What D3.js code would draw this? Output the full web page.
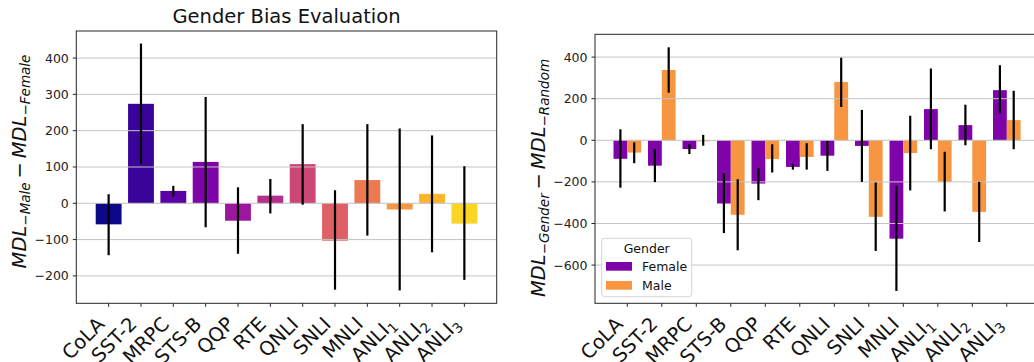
<!DOCTYPE html>
<html>
<head>
<meta charset="utf-8">
<script src="https://cdn.jsdelivr.net/npm/d3@7"></script>
<style>
  body { margin: 0; background: #fff; }
  svg { display: block; font-family: 'DejaVu Sans', sans-serif; }
</style>
</head>
<body>
<svg id="chart" width="1034" height="362"></svg>
<script>
const tasks = ['CoLA', 'SST-2', 'MRPC', 'STS-B', 'QQP', 'RTE', 'QNLI', 'SNLI', 'MNLI', 'ANLI1', 'ANLI2', 'ANLI3']

// left panel: MDL_Male - MDL_Female
const biasMean = [-58, 274, 34, 114, -48, 21, 108, -103, 64, -17, 26, -56]
const biasLo = [-143, 108, 18, -66, -139, -28, -4, -238, -89, -240, -135, -211]
const biasHi = [25, 440, 48, 293, 44, 67, 218, 36, 218, 206, 187, 102]

// right panel: MDL_Gender - MDL_Random
const genders = ['Female', 'Male']
const femaleMean = [-89, -122, -42, -304, -208, -128, -74, -27, -473, 150, 73, 241]
const femaleLo = [-228, -201, -66, -446, -288, -141, -147, -200, -724, -43, -24, 129]
const femaleHi = [53, -42, -19, -158, -133, -114, -3, 146, -219, 345, 171, 361]
const maleMean = [-59, 338, -5, -358, -90, -80, 280, -368, -61, -200, -344, 97]
const maleLo = [-110, 229, -26, -529, -155, -141, 160, -532, -241, -342, -489, -43]
const maleHi = [-10, 447, 26, -187, -19, -14, 397, -203, 118, -55, -200, 238]

const leftTicks = [-200, -100, 0, 100, 200, 300, 400]
const rightTicks = [-600, -400, -200, 0, 200, 400]

const GRID = '#c4c4c4'
const SPINE = '#262626'
const TICK_FONT = 12.5
const XLAB_FONT = 19.5
const YLAB_FONT = 19.5
const YLAB_SUB = 13.5

const svg = d3.select('#chart')

function drawPanel(o) {
  const g = svg.append('g')
  const [x0, x1] = o.x.range()
  const [yb, yt] = o.y.range()

  // bars first, then grid on top (matplotlib axisbelow='line'), then error bars
  o.drawBars(g)

  g.append('g')
    .selectAll('line')
    .data(o.ticks)
    .join('line')
    .attr('x1', x0).attr('x2', x1)
    .attr('y1', d => o.y(d)).attr('y2', d => o.y(d))
    .attr('stroke', GRID)
    .attr('stroke-width', 1)

  o.drawErrors(g)

  // spines
  g.append('rect')
    .attr('x', x0).attr('y', yt)
    .attr('width', x1 - x0).attr('height', yb - yt)
    .attr('fill', 'none')
    .attr('stroke', SPINE)
    .attr('stroke-width', 1)

  // y ticks
  const yAx = g.append('g')
  yAx.selectAll('line')
    .data(o.ticks)
    .join('line')
    .attr('x1', x0 - 3.5).attr('x2', x0)
    .attr('y1', d => o.y(d)).attr('y2', d => o.y(d))
    .attr('stroke', SPINE)
  yAx.selectAll('text')
    .data(o.ticks)
    .join('text')
    .attr('x', x0 - 7.5)
    .attr('y', d => o.y(d))
    .attr('dy', '0.36em')
    .attr('text-anchor', 'end')
    .attr('font-size', TICK_FONT)
    .attr('fill', '#222')
    .text(d => (d < 0 ? '\u2212' + Math.abs(d) : d))

  // x ticks
  const cx = d => o.x(d) + o.x.bandwidth() / 2
  g.append('g')
    .selectAll('line')
    .data(tasks)
    .join('line')
    .attr('x1', cx).attr('x2', cx)
    .attr('y1', yb).attr('y2', yb + 3.5)
    .attr('stroke', SPINE)

  g.append('g')
    .selectAll('text')
    .data(tasks)
    .join('text')
    .attr('text-anchor', 'end')
    .attr('font-size', XLAB_FONT)
    .attr('fill', '#111')
    .attr('transform', d => `translate(${cx(d) - 3}, ${yb + 22}) rotate(-45)`)
    .each(function (d) {
      const t = d3.select(this)
      const m = d.match(/^(ANLI)(\d)$/)
      if (m) {
        t.append('tspan').text(m[1])
        t.append('tspan').attr('font-size', XLAB_FONT * 0.7).attr('dy', 4).text(m[2])
      } else {
        t.text(d)
      }
    })

  // y label (mathtext-like)
  const lab = g.append('text')
    .attr('transform', `translate(${o.labelX}, ${o.labelY}) rotate(-90)`)
    .attr('text-anchor', 'middle')
    .attr('font-size', YLAB_FONT)
    .attr('fill', '#111')
  lab.append('tspan').attr('font-style', 'italic').text('MDL')
  lab.append('tspan').attr('font-style', 'italic').attr('font-size', YLAB_SUB).attr('dy', 4).text('\u2212' + o.sub1)
  lab.append('tspan').attr('dy', -4).text('\u2009\u2212\u2009')
  lab.append('tspan').attr('font-style', 'italic').text('MDL')
  lab.append('tspan').attr('font-style', 'italic').attr('font-size', YLAB_SUB).attr('dy', 4).text('\u2212' + o.sub2)

  return g
}

function errLines(g, xs, lo, hi, y) {
  g.append('g')
    .selectAll('line')
    .data(tasks)
    .join('line')
    .attr('x1', d => xs(d)).attr('x2', d => xs(d))
    .attr('y1', (d, i) => y(lo[i])).attr('y2', (d, i) => y(hi[i]))
    .attr('stroke', '#000')
    .attr('stroke-width', 2.2)
}

// ---------- left panel ----------
const xL = d3.scaleBand().domain(tasks).range([76.3, 496.7]).paddingInner(0.2).paddingOuter(0.6)
const yL = d3.scaleLinear().domain([-275.5, 474.6]).range([303.3, 31])
const colorL = (d, i) => d3.interpolatePlasma(i / tasks.length)

const left = drawPanel({
  x: xL, y: yL, ticks: leftTicks,
  labelX: 25.5, labelY: 161.5, sub1: 'Male', sub2: 'Female',
  drawBars(g) {
    g.append('g')
      .selectAll('rect')
      .data(tasks)
      .join('rect')
      .attr('x', d => xL(d))
      .attr('width', xL.bandwidth())
      .attr('y', (d, i) => yL(Math.max(0, biasMean[i])))
      .attr('height', (d, i) => Math.abs(yL(biasMean[i]) - yL(0)))
      .attr('fill', colorL)
  },
  drawErrors(g) {
    errLines(g, d => xL(d) + xL.bandwidth() / 2, biasLo, biasHi, yL)
  }
})

left.append('text')
  .attr('x', (76.3 + 496.7) / 2)
  .attr('y', 23.3)
  .attr('text-anchor', 'middle')
  .attr('font-size', 19.5)
  .attr('fill', '#111')
  .text('Gender Bias Evaluation')

// ---------- right panel ----------
const xR = d3.scaleBand().domain(tasks).range([595, 1039.1]).paddingInner(0.2).paddingOuter(0.536)
const xSub = d3.scaleBand().domain(genders).range([0, xR.bandwidth()])
const yR = d3.scaleLinear().domain([-783.7, 509.6]).range([303.3, 34.3])
const colorR = d3.scaleOrdinal().domain(genders).range([d3.interpolatePlasma(0.25), d3.interpolatePlasma(0.75)])
const seriesR = {
  Female: { mean: femaleMean, lo: femaleLo, hi: femaleHi },
  Male: { mean: maleMean, lo: maleLo, hi: maleHi }
}

const right = drawPanel({
  x: xR, y: yR, ticks: rightTicks,
  labelX: 544.5, labelY: 178, sub1: 'Gender', sub2: 'Random',
  drawBars(g) {
    genders.forEach(gd => {
      const s = seriesR[gd]
      g.append('g')
        .selectAll('rect')
        .data(tasks)
        .join('rect')
        .attr('x', d => xR(d) + xSub(gd))
        .attr('width', xSub.bandwidth())
        .attr('y', (d, i) => yR(Math.max(0, s.mean[i])))
        .attr('height', (d, i) => Math.abs(yR(s.mean[i]) - yR(0)))
        .attr('fill', colorR(gd))
    })
  },
  drawErrors(g) {
    genders.forEach(gd => {
      const s = seriesR[gd]
      errLines(g, d => xR(d) + xSub(gd) + xSub.bandwidth() / 2, s.lo, s.hi, yR)
    })
  }
})

// legend
const leg = right.append('g').attr('transform', 'translate(601.7, 238.3)')
leg.append('rect')
  .attr('width', 90).attr('height', 58.4)
  .attr('rx', 3)
  .attr('fill', 'rgba(255,255,255,0.8)')
  .attr('stroke', '#d6d6d6')
leg.append('text')
  .attr('x', 45).attr('y', 14.4)
  .attr('text-anchor', 'middle')
  .attr('font-size', 12.5)
  .attr('fill', '#111')
  .text('Gender')
const items = leg.selectAll('g.item')
  .data(genders)
  .join('g')
  .attr('class', 'item')
  .attr('transform', (d, i) => `translate(0, ${23.7 + i * 19})`)
items.append('rect')
  .attr('x', 4.3).attr('width', 26).attr('height', 8.7)
  .attr('fill', d => colorR(d))
items.append('text')
  .attr('x', 40.3).attr('y', 8.7)
  .attr('font-size', 12.5)
  .attr('fill', '#111')
  .text(d => d)
</script>
</body>
</html>
